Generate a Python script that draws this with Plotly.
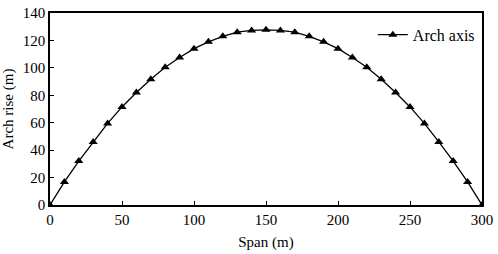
import plotly.graph_objects as go

span = [0, 10, 20, 30, 40, 50, 60, 70, 80, 90, 100, 110, 120, 130, 140, 150,
        160, 170, 180, 190, 200, 210, 220, 230, 240, 250, 260, 270, 280, 290, 300]
rise = [0, 16.8, 32, 46, 59.5, 71.5, 82, 91.7, 100.5, 107.5, 114, 119, 123, 126, 127.3, 127.7,
        127.3, 126, 123, 119, 114, 107.5, 100.5, 91.7, 82, 71.5, 59.5, 46, 32, 16.8, 0]

fig = go.Figure()
fig.add_trace(go.Scatter(
    x=span, y=rise, mode="lines+markers", name="Arch axis",
    line=dict(color="black", width=1.3),
    marker=dict(symbol="triangle-up", size=8, color="black"),
))

font = "Liberation Serif"
fig.update_layout(
    width=498, height=254,
    margin=dict(l=50, r=16, t=13, b=49),
    paper_bgcolor="white", plot_bgcolor="white",
    font=dict(family=font, size=15, color="black"),
    showlegend=True,
    legend=dict(x=0.995, y=0.975, xanchor="right", yanchor="top",
                bgcolor="rgba(0,0,0,0)", font=dict(family=font, size=16)),
    xaxis=dict(range=[0, 300], tickvals=[0, 50, 100, 150, 200, 250, 300],
               showline=True, linecolor="black", linewidth=1.5, mirror=True,
               ticks="inside", ticklen=4, tickcolor="black", showgrid=False, zeroline=False,
               automargin=False, tickfont=dict(family=font, size=15),
               title=dict(text="Span (m)", standoff=10, font=dict(family=font, size=15))),
    yaxis=dict(range=[0, 140], tickvals=[0, 20, 40, 60, 80, 100, 120, 140],
               showline=True, linecolor="black", linewidth=1.5, mirror=True,
               ticks="inside", ticklen=4, tickcolor="black", showgrid=False, zeroline=False,
               automargin=False, tickfont=dict(family=font, size=15),
               title=dict(text="Arch rise (m)", standoff=6, font=dict(family=font, size=15))),
)
fig.write_html("out.html", config={"displayModeBar": False},
               post_script="document.body.style.margin='0';document.body.style.padding='0';")
